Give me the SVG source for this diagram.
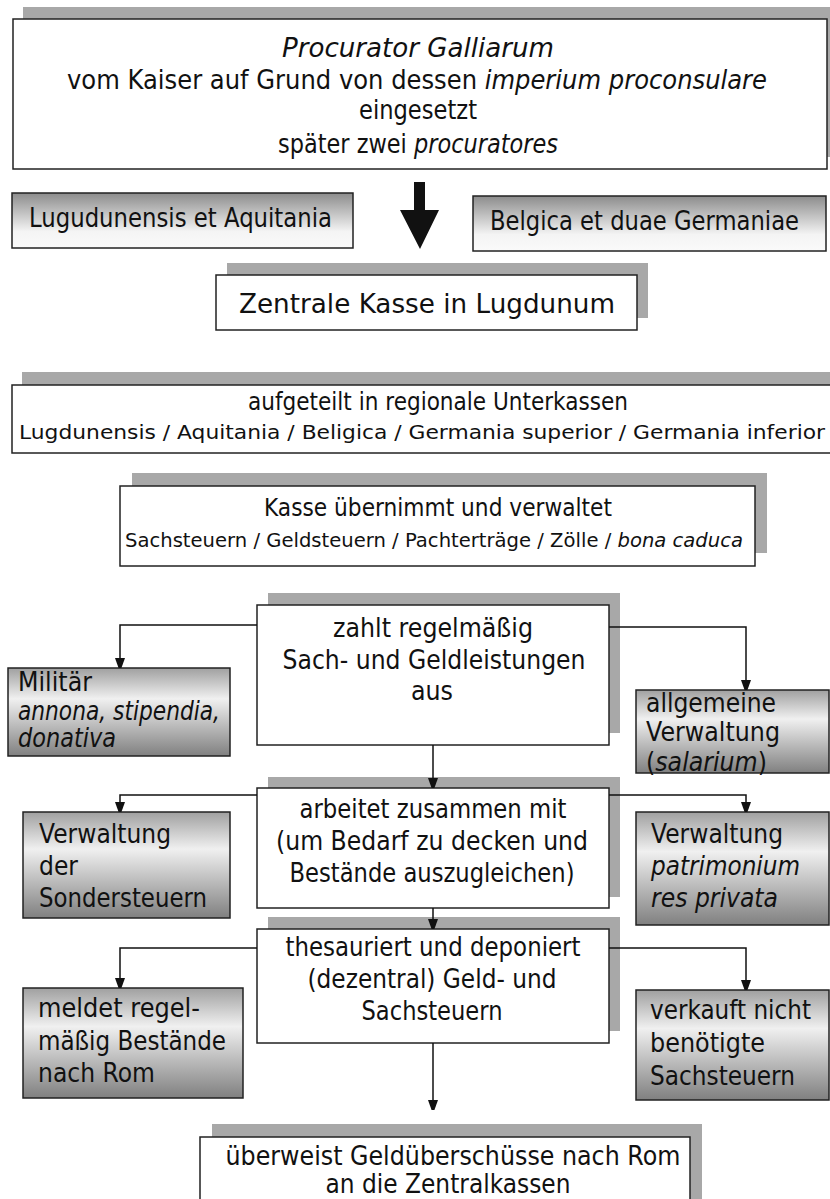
<svg xmlns="http://www.w3.org/2000/svg" width="830" height="1199" viewBox="0 0 830 1199">
<defs>
<style>
text{font-family:"DejaVu Sans","Liberation Sans",sans-serif;fill:#111;font-size:26px}
.m{text-anchor:middle}
.i{font-style:italic}
.s{font-size:20px}
.h{font-size:24px}
.box{fill:#fff;stroke:#222;stroke-width:1.5}
.sh{fill:#a8a8a8}
.gb{fill:url(#g1);stroke:#222;stroke-width:1.5}
.gs{fill:url(#g2);stroke:#222;stroke-width:1.5}
.c{fill:none;stroke:#111;stroke-width:1.5}
</style>
<linearGradient id="g1" x1="0" y1="0" x2="0" y2="1">
<stop offset="0" stop-color="#8c8c8c"/>
<stop offset="0.7" stop-color="#f4f4f4"/>
<stop offset="1" stop-color="#fafafa"/>
</linearGradient>
<linearGradient id="g2" x1="0" y1="0" x2="0" y2="1">
<stop offset="0" stop-color="#a0a0a0"/>
<stop offset="0.35" stop-color="#f0f0f0"/>
<stop offset="1" stop-color="#808080"/>
</linearGradient>
<marker id="ah" viewBox="0 0 10 14" refX="10" refY="5" markerWidth="10" markerHeight="14" markerUnits="userSpaceOnUse" orient="auto">
<path d="M0,0 L14,5 L0,10 z" fill="#111"/>
</marker>
</defs>

<g id="n-procurator">
<rect class="sh" x="23" y="7" width="807" height="150"/>
<rect class="box" x="13" y="19" width="814" height="150"/>
<text class="m i" x="418" y="57" font-size="28" textLength="272" lengthAdjust="spacingAndGlyphs">Procurator Galliarum</text>
<text class="m" x="417" y="89" textLength="700" lengthAdjust="spacingAndGlyphs">vom Kaiser auf Grund von dessen <tspan class="i">imperium proconsulare</tspan></text>
<text class="m" x="418" y="119" textLength="118" lengthAdjust="spacingAndGlyphs">eingesetzt</text>
<text class="m" x="418" y="153" textLength="280" lengthAdjust="spacingAndGlyphs">später zwei <tspan class="i">procuratores</tspan></text>
</g>

<g id="n-lugudunensis">
<rect class="gb" x="12" y="193" width="341" height="55"/>
<text x="29" y="227" font-size="27" textLength="303" lengthAdjust="spacingAndGlyphs">Lugudunensis et Aquitania</text>
</g>

<g id="n-belgica">
<rect class="gb" x="473" y="196" width="353" height="55"/>
<text x="490" y="230" font-size="27" textLength="309" lengthAdjust="spacingAndGlyphs">Belgica et duae Germaniae</text>
</g>

<g id="big-arrow">
<path d="M414,182 H425 V210 H439 L420,249 L400,210 H414 Z" fill="#111"/>
</g>

<g id="n-zentrale">
<rect class="sh" x="227" y="263" width="421" height="55"/>
<rect class="box" x="216" y="275" width="421" height="55"/>
<text class="m" x="427" y="313" font-size="31" textLength="376" lengthAdjust="spacingAndGlyphs">Zentrale Kasse in Lugdunum</text>
</g>

<g id="n-aufgeteilt">
<rect class="sh" x="22" y="372" width="808" height="70"/>
<rect class="box" x="12" y="385" width="830" height="68"/>
<text class="m h" x="438" y="410" textLength="380" lengthAdjust="spacingAndGlyphs">aufgeteilt in regionale Unterkassen</text>
<text class="m s" x="422" y="439" textLength="806" lengthAdjust="spacingAndGlyphs">Lugdunensis / Aquitania / Beligica / Germania superior / Germania inferior</text>
</g>

<g id="n-kasse">
<rect class="sh" x="132" y="473" width="635" height="80"/>
<rect class="box" x="120" y="486" width="635" height="80"/>
<text class="m h" x="438" y="516" textLength="348" lengthAdjust="spacingAndGlyphs">Kasse übernimmt und verwaltet</text>
<text class="m s" x="434" y="547" textLength="618" lengthAdjust="spacingAndGlyphs">Sachsteuern / Geldsteuern / Pachterträge / Zölle / <tspan class="i">bona caduca</tspan></text>
</g>

<g id="n-zahlt">
<rect class="sh" x="268" y="593" width="352" height="140"/>
<rect class="box" x="257" y="605" width="352" height="140"/>
<text class="m" x="433" y="637" textLength="200" lengthAdjust="spacingAndGlyphs">zahlt regelmäßig</text>
<text class="m" x="434" y="669" textLength="303" lengthAdjust="spacingAndGlyphs">Sach- und Geldleistungen</text>
<text class="m" x="432" y="700" textLength="42" lengthAdjust="spacingAndGlyphs">aus</text>
</g>

<g id="n-militaer">
<rect class="gs" x="8" y="668" width="222" height="88"/>
<text x="18" y="691" textLength="74" lengthAdjust="spacingAndGlyphs">Militär</text>
<text class="i" x="18" y="720" font-size="24" textLength="202" lengthAdjust="spacingAndGlyphs">annona, stipendia,</text>
<text class="i" x="18" y="747" font-size="24" textLength="98" lengthAdjust="spacingAndGlyphs">donativa</text>
</g>

<g id="n-allgemeine">
<rect class="gs" x="636" y="690" width="193" height="83"/>
<text x="646" y="712" textLength="130" lengthAdjust="spacingAndGlyphs">allgemeine</text>
<text x="646" y="741" textLength="134" lengthAdjust="spacingAndGlyphs">Verwaltung</text>
<text x="646" y="771" font-size="25" textLength="121" lengthAdjust="spacingAndGlyphs">(<tspan class="i">salarium</tspan>)</text>
</g>

<g id="n-arbeitet">
<rect class="sh" x="268" y="777" width="352" height="120"/>
<rect class="box" x="257" y="788" width="352" height="120"/>
<text class="m" x="433" y="818" textLength="267" lengthAdjust="spacingAndGlyphs">arbeitet zusammen mit</text>
<text class="m" x="432" y="850" textLength="312" lengthAdjust="spacingAndGlyphs">(um Bedarf zu decken und</text>
<text class="m" x="432" y="882" textLength="285" lengthAdjust="spacingAndGlyphs">Bestände auszugleichen)</text>
</g>

<g id="n-sondersteuern">
<rect class="gs" x="23" y="812" width="207" height="106"/>
<text x="39" y="843" textLength="132" lengthAdjust="spacingAndGlyphs">Verwaltung</text>
<text x="39" y="875" textLength="39" lengthAdjust="spacingAndGlyphs">der</text>
<text x="39" y="907" textLength="168" lengthAdjust="spacingAndGlyphs">Sondersteuern</text>
</g>

<g id="n-patrimonium">
<rect class="gs" x="636" y="812" width="193" height="113"/>
<text x="651" y="843" textLength="132" lengthAdjust="spacingAndGlyphs">Verwaltung</text>
<text class="i" x="651" y="875" textLength="149" lengthAdjust="spacingAndGlyphs">patrimonium</text>
<text class="i" x="651" y="907" textLength="127" lengthAdjust="spacingAndGlyphs">res privata</text>
</g>

<g id="n-thesauriert">
<rect class="sh" x="268" y="917" width="352" height="114"/>
<rect class="box" x="257" y="929" width="352" height="114"/>
<text class="m" x="433" y="956" textLength="295" lengthAdjust="spacingAndGlyphs">thesauriert und deponiert</text>
<text class="m" x="432" y="988" textLength="249" lengthAdjust="spacingAndGlyphs">(dezentral) Geld- und</text>
<text class="m" x="432" y="1020" textLength="141" lengthAdjust="spacingAndGlyphs">Sachsteuern</text>
</g>

<g id="n-meldet">
<rect class="gs" x="23" y="988" width="220" height="110"/>
<text x="38" y="1017" textLength="162" lengthAdjust="spacingAndGlyphs">meldet regel-</text>
<text x="38" y="1050" textLength="188" lengthAdjust="spacingAndGlyphs">mäßig Bestände</text>
<text x="38" y="1082" textLength="117" lengthAdjust="spacingAndGlyphs">nach Rom</text>
</g>

<g id="n-verkauft">
<rect class="gs" x="636" y="990" width="193" height="110"/>
<text x="650" y="1019" textLength="161" lengthAdjust="spacingAndGlyphs">verkauft nicht</text>
<text x="650" y="1052" textLength="115" lengthAdjust="spacingAndGlyphs">benötigte</text>
<text x="650" y="1085" textLength="145" lengthAdjust="spacingAndGlyphs">Sachsteuern</text>
</g>

<g id="n-ueberweist">
<rect class="sh" x="212" y="1124" width="490" height="80"/>
<rect class="box" x="200" y="1137" width="490" height="80"/>
<text class="m" x="453" y="1165" font-size="25" textLength="455" lengthAdjust="spacingAndGlyphs">überweist Geldüberschüsse nach Rom</text>
<text class="m" x="448" y="1193" font-size="25" textLength="245" lengthAdjust="spacingAndGlyphs">an die Zentralkassen</text>
</g>

<g id="connectors">
<path class="c" d="M257,625 H120 V668" marker-end="url(#ah)"/>
<path class="c" d="M609,627 H746 V690" marker-end="url(#ah)"/>
<path class="c" d="M433,745 V788" marker-end="url(#ah)"/>
<path class="c" d="M257,795 H120 V812" marker-end="url(#ah)"/>
<path class="c" d="M609,795 H746 V812" marker-end="url(#ah)"/>
<path class="c" d="M433,908 V929" marker-end="url(#ah)"/>
<path class="c" d="M257,948 H120 V988" marker-end="url(#ah)"/>
<path class="c" d="M609,948 H746 V990" marker-end="url(#ah)"/>
<path class="c" d="M433,1043 V1110" marker-end="url(#ah)"/>
</g>
</svg>
